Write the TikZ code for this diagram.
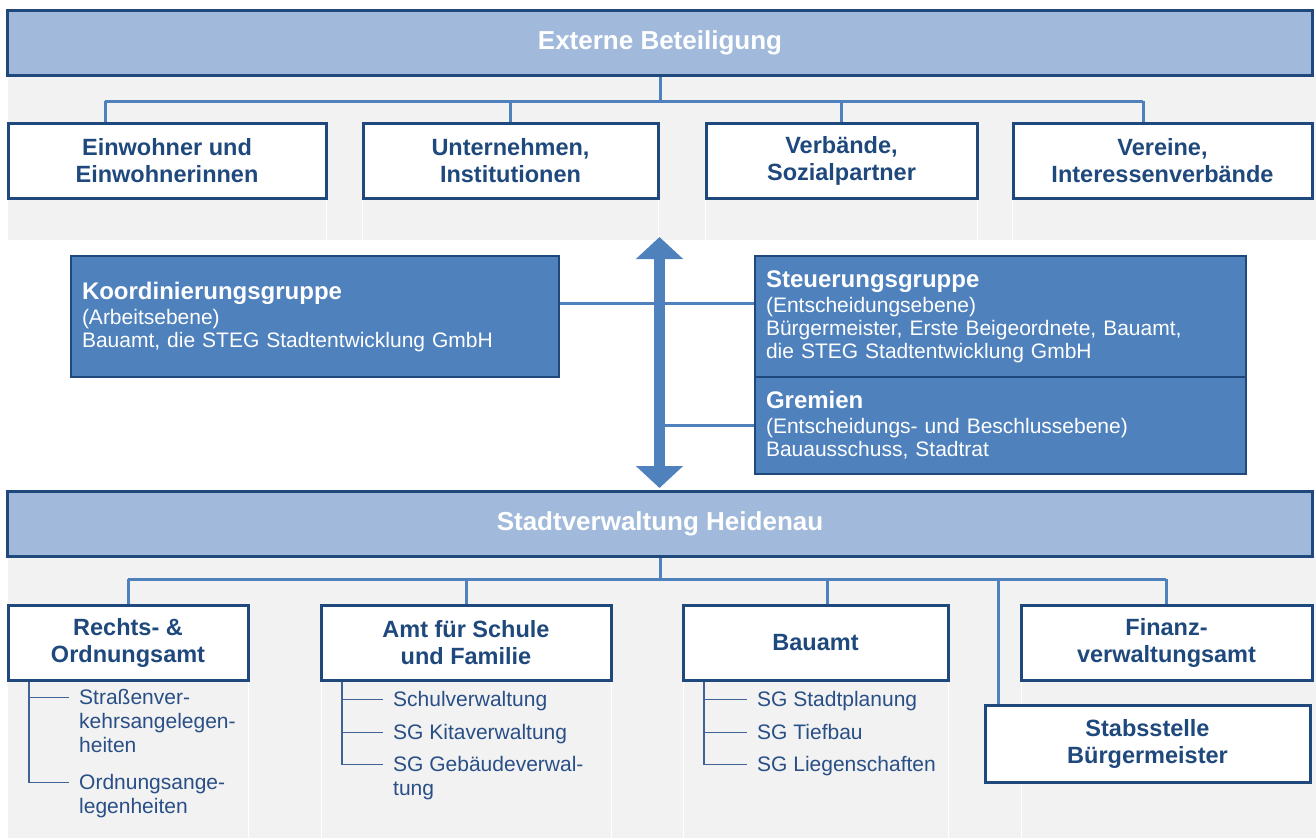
\documentclass[tikz,border=0pt]{standalone}
\usepackage{fontspec}
\setmainfont{Liberation Sans}
\usetikzlibrary{arrows.meta,backgrounds}
\definecolor{dunkelblau}{RGB}{31,73,125}
\definecolor{mittelblau}{RGB}{79,129,189}
\definecolor{hellblau}{RGB}{161,186,219}
\definecolor{hellgrau}{RGB}{242,242,242}
\definecolor{textblau}{RGB}{41,79,134}
\definecolor{astblau}{RGB}{64,98,150}

\begin{document}
\begin{tikzpicture}[x=1pt,y=-1pt,
    ebene/.style={draw=dunkelblau,line width=3pt,fill=hellblau,text=white,
      font=\fontsize{26}{30}\selectfont\bfseries,minimum width=1305pt,minimum height=65pt},
    kasten/.style={draw=dunkelblau,line width=3pt,fill=white,text=dunkelblau,align=center,
      font=\fontsize{23.5}{27}\selectfont\bfseries,minimum height=75pt},
    gruppe/.style={draw=dunkelblau,line width=2.5pt,fill=mittelblau,text=white,align=left,
      inner xsep=11pt,font=\fontsize{21}{23}\selectfont},
    verbinder/.style={draw=mittelblau,line width=3pt},
    pfeil/.style={draw=mittelblau,line width=11pt,
      {Triangle[width=46pt,length=22pt]}-{Triangle[width=46pt,length=22pt]}},
    ast/.style={draw=astblau,line width=1.2pt},
    punkt/.style={anchor=north west,align=left,text=textblau,inner sep=0pt,
      font=\fontsize{21}{24}\selectfont},
    trenner/.style={draw=white,line width=1pt}]

\useasboundingbox (0,0) rectangle (1316,838);

\node[ebene] (extern) at (660,43) {Externe Beteiligung};
\node[kasten,minimum width=318pt] (einw) at (167,160.5) {Einwohner und\\Einwohnerinnen};
\node[kasten,minimum width=295pt] (unter) at (510.5,160.5) {Unternehmen,\\Institutionen};
\node[kasten,minimum width=271pt] (verb) at (841.5,160.5) {Verbände,\\Sozialpartner};
\node[kasten,minimum width=299pt] (verein) at (1162.5,160.5) {Vereine,\\Interessenverbände};

\node[gruppe,text width=466pt,minimum height=121pt] (koord) at (315,316.5)
  {{\bfseries\fontsize{24}{26}\selectfont Koordinierungsgruppe}\\[2pt]
   (Arbeitsebene)\\Bauamt, die STEG Stadtentwicklung GmbH};
\node[gruppe,text width=469pt,minimum height=121pt] (steu) at (1000.5,316.5)
  {{\bfseries\fontsize{24}{26}\selectfont Steuerungsgruppe}\\[2pt]
   (Entscheidungsebene)\\Bürgermeister, Erste Beigeordnete, Bauamt,\\die STEG Stadtentwicklung GmbH};
\node[gruppe,text width=469pt,minimum height=97pt] (grem) at (1000.5,425.5)
  {{\bfseries\fontsize{24}{26}\selectfont Gremien}\\[2pt]
   (Entscheidungs- und Beschlussebene)\\Bauausschuss, Stadtrat};

\node[ebene] (stadt) at (660,524) {Stadtverwaltung Heidenau};
\node[kasten,minimum width=240pt] (rechts) at (128,642.5) {Rechts- \&\\Ordnungsamt};
\node[kasten,minimum width=290pt] (amt) at (466,642.5) {Amt für Schule\\und Familie};
\node[kasten,minimum width=265pt] (bau) at (815.5,642.5) {Bauamt};
\node[kasten,minimum width=291pt] (fin) at (1166.5,642.5) {Finanz-\\verwaltungsamt};
\node[kasten,minimum width=325pt,minimum height=77pt] (stab) at (1147.5,743.5) {Stabsstelle\\Bürgermeister};

\node[punkt] (rechts1) at (79,689) {Straßenver-\\kehrsangelegen-\\heiten};
\node[punkt] (rechts2) at (79,774) {Ordnungsange-\\legenheiten};
\node[punkt] (amt1) at (393,691) {Schulverwaltung};
\node[punkt] (amt2) at (393,724) {SG Kitaverwaltung};
\node[punkt] (amt3) at (393,756) {SG Gebäudeverwal-\\tung};
\node[punkt] (bau1) at (757,691) {SG Stadtplanung};
\node[punkt] (bau2) at (757,724) {SG Tiefbau};
\node[punkt] (bau3) at (757,756) {SG Liegenschaften};

\coordinate (b1w) at (105,101);
\coordinate (b1e) at (1143,101);
\coordinate (b2w) at (128,579);
\coordinate (b2e) at (1166,579);
\coordinate (poben) at (659.5,237);
\coordinate (punten) at (659.5,488);
\coordinate (bauan) at ([xshift=11.5pt]bau.north);
\coordinate (staban) at ([xshift=15pt]stab.north west);

\begin{scope}[on background layer]
\fill[hellgrau] (8,74) rectangle (1316,240);
\fill[hellgrau] (8,556) rectangle (1316,838);
\foreach \x in {326.5,362.5,658.5,705.5,977.5,1012.5}
  \draw[trenner] (\x,199) -- (\x,240);
\foreach \x in {248,321,611,683,948,1021}
  \draw[trenner] (\x,681) -- (\x,838);

\draw[verbinder] (extern.south) -- (extern.south |- b1w);
\draw[verbinder] (b1w) -- (b1e);
\draw[verbinder] (b1w) -- (b1w |- einw.north);
\draw[verbinder] (unter.north |- b1w) -- (unter.north);
\draw[verbinder] (verb.north |- b1w) -- (verb.north);
\draw[verbinder] (b1e) -- (b1e |- verein.north);

\draw[verbinder] ([yshift=13.5pt]koord.east) -- ([yshift=13.5pt]steu.west);
\draw[verbinder] (grem.west) -- (grem.west -| poben);

\draw[verbinder] (stadt.south) -- (stadt.south |- b2w);
\draw[verbinder] (b2w) -- (b2e);
\draw[verbinder] (b2w) -- (b2w |- rechts.north);
\draw[verbinder] (amt.north |- b2w) -- (amt.north);
\draw[verbinder] (bauan |- b2w) -- (bauan);
\draw[verbinder] (staban |- b2w) -- (staban);
\draw[verbinder] (b2e) -- (b2e |- fin.north);
\end{scope}

\draw[pfeil] (poben) -- (punten);

\foreach \abt/\letzt in {rechts/2,amt/3,bau/3} {
  \coordinate (\abt L) at ([xshift=22.5pt]\abt.south west);
  \foreach \i in {1,...,\letzt} {
    \coordinate (\abt T\i) at ([shift={(-10pt,-8.5pt)}]\abt\i.north west);
    \draw[ast] (\abt T\i) -- (\abt T\i -| \abt L);
  }
  \draw[ast] (\abt L) -- (\abt L |- \abt T\letzt);
}
\end{tikzpicture}
\end{document}
